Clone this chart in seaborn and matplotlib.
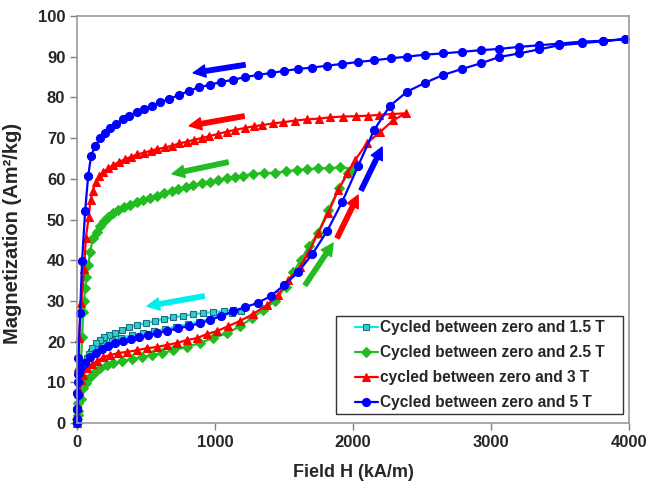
import numpy as np
import pandas as pd
import seaborn as sns
import matplotlib.pyplot as plt
from matplotlib.patches import Rectangle

# ================================
# Datos (H en kA/m, M en Am2/kg)
# ================================
h_15_up = [0, 5, 12, 25, 45, 70, 100, 140, 190, 250, 320, 400, 480, 560, 640, 720,
           800, 880, 960, 1040, 1120, 1190]
m_15_up = [0, 4, 8, 11, 14, 16, 17.5, 18.6, 19.5, 20.3, 21, 21.6, 22.1, 22.6, 23.1, 23.7,
           24.3, 24.9, 25.6, 26.3, 27.0, 27.6]
h_15_down = [1133, 1062, 988, 915, 843, 770, 698, 630, 566, 500, 437, 379, 326, 275,
             233, 196, 167, 138, 110, 85, 60, 40, 22, 10, 0]
m_15_down = [27.8, 27.5, 27.3, 27.0, 26.8, 26.3, 26.0, 25.6, 25.1, 24.6, 24.1, 23.6, 22.9, 22.1,
             21.6, 21.1, 20.4, 19.7, 18.5, 17, 14.5, 11, 7, 3.5, 1]

h_25_up = [0, 10, 25, 40, 65, 94, 130, 167, 217, 261, 326, 398, 471, 543, 616, 696, 797,
           891, 986, 1087, 1181, 1268, 1348, 1435, 1510, 1565, 1620, 1680, 1746, 1819,
           1899, 1964, 1990]
m_25_up = [0, 3, 6, 8.5, 9.8, 11.3, 12.5, 13.5, 14.2, 14.7, 15.2, 15.7, 16.2, 16.7, 17.2, 17.9,
           18.7, 19.7, 20.9, 22.1, 23.8, 25.8, 27.8, 30.0, 33.5, 37.0, 40.0, 43.5, 46.7, 52.3,
           57.7, 61.4, 62.5]
h_25_down = [1906, 1826, 1746, 1664, 1591, 1514, 1433, 1355, 1277, 1205, 1145, 1084, 1022,
             964, 903, 841, 790, 732, 688, 630, 580, 529, 478, 433, 384, 341, 297, 263, 227,
             196, 167, 142, 113, 95, 80, 68, 58, 50, 43, 36, 28, 20, 10, 3, 0]
m_25_down = [62.8, 62.6, 62.6, 62.3, 62.2, 61.8, 61.5, 61.4, 61.2, 60.8, 60.5, 60.1, 59.7,
             59.3, 58.9, 58.4, 57.9, 57.4, 57.1, 56.5, 55.9, 55.3, 54.8, 54.2, 53.6, 53.0, 52.3,
             51.5, 50.7, 49.7, 48.5, 47.0, 45.4, 42.0, 38.8, 36.0, 33.2, 30, 27.3, 21.1, 15, 10,
             5, 2, 1]

h_3_up = [0, 5, 15, 30, 43, 72, 109, 145, 188, 239, 297, 362, 435, 507, 580, 652, 725, 797,
          870, 942, 1014, 1094, 1181, 1275, 1377, 1457, 1529, 1616, 1674, 1746, 1819, 1891,
          1957, 2014, 2101, 2196, 2290, 2384]
m_3_up = [0, 4, 8, 10.5, 11.8, 13.5, 14.5, 15.2, 16.2, 16.7, 17.2, 17.5, 17.9, 18.4, 18.7,
          19.2, 19.7, 20.4, 20.9, 21.9, 22.6, 23.8, 25.1, 26.8, 29.0, 31.5, 35.1, 38.4, 41.7,
          46.7, 51.6, 57.2, 61.4, 64.6, 68.8, 71.5, 74.4, 76.1]
h_3_down = [2283, 2188, 2109, 2022, 1927, 1833, 1756, 1664, 1578, 1495, 1418, 1343, 1280,
            1217, 1145, 1084, 1022, 957, 903, 847, 794, 741, 686, 637, 582, 533, 484, 437,
            389, 348, 307, 263, 227, 191, 162, 135, 113, 97, 84, 63, 51, 29, 14, 5, 2, 0]
m_3_down = [75.9, 75.7, 75.5, 75.4, 75.3, 75.1, 74.8, 74.6, 74.3, 73.9, 73.6, 73.2, 72.9,
            72.5, 72.0, 71.6, 71.0, 70.5, 70.0, 69.6, 69.1, 68.7, 68.1, 67.7, 67.3, 66.9, 66.4,
            66.0, 65.4, 64.8, 64.2, 63.4, 62.6, 61.7, 60.6, 59.1, 57.1, 54.8, 50.7, 45.4, 37.9,
            29.5, 20.9, 13.8, 8, 2]

h_5_up = [0, 2, 4, 8, 15, 30, 58, 94, 137, 178, 226, 275, 331, 391, 450, 514, 577, 650,
          728, 810, 893, 964, 1043, 1133, 1219, 1307, 1403, 1500, 1601, 1704, 1812, 1920,
          2035, 2152, 2266, 2391, 2522, 2652, 2790, 2928, 3058, 3203, 3348, 3493, 3659,
          3812, 3971]
m_5_up = [0, 3.5, 7, 10, 12.5, 13.8, 14.7, 16.2, 17.2, 18.2, 18.9, 19.6, 20.2, 20.6, 21.1,
          21.6, 22.1, 22.6, 23.3, 23.8, 24.6, 25.3, 26.3, 27.5, 28.5, 29.5, 31.2, 33.9, 37.1,
          41.5, 47.2, 54.3, 63.1, 72.0, 77.9, 81.4, 83.6, 85.5, 87.0, 88.4, 89.9, 90.8, 91.8,
          92.8, 93.3, 93.8, 94.3]
h_5_down = [3812, 3659, 3493, 3348, 3203, 3058, 2928, 2790, 2652, 2522, 2391, 2275, 2152,
            2036, 1920, 1812, 1703, 1603, 1500, 1406, 1310, 1217, 1130, 1043, 964, 884, 812,
            739, 667, 601, 543, 486, 433, 377, 333, 283, 239, 203, 167, 130, 101, 80, 58, 36,
            22, 10, 5, 2, 0, 0]
m_5_down = [93.9, 93.7, 93.2, 92.8, 92.4, 91.9, 91.6, 91.2, 90.8, 90.5, 90.0, 89.6, 89.1,
            88.7, 88.2, 87.8, 87.3, 87.0, 86.5, 86.0, 85.5, 85.0, 84.3, 83.8, 83.1, 82.5, 81.6,
            80.6, 79.6, 78.8, 77.9, 77.2, 76.4, 75.5, 74.6, 73.5, 72.5, 71.3, 70.0, 68.0, 65.6,
            60.7, 52.0, 39.8, 27.0, 16.0, 12.0, 7.5, 3.5, 1]

etiquetas = ["Cycled between zero and 1.5 T", "Cycled between zero and 2.5 T",
             "cycled between zero and 3 T", "Cycled between zero and 5 T"]

# flechas: (cola H, cola M, punta H, punta M)
flechas_azul = [(1217, 88.0, 841, 86.0), (2058, 57.2, 2210, 67.8)]
flechas_rojo = [(1210, 75.4, 812, 73.0), (1884, 45.5, 2036, 56.0)]
flechas_verde = [(1094, 64.1, 688, 61.2), (1652, 33.9, 1855, 44.2)]
flechas_cian = [(920, 31.2, 507, 28.7)]

# Estilo visual
sns.set_style("white")
plt.rcParams["font.family"] = ["Liberation Sans", "DejaVu Sans"]
plt.rcParams["font.weight"] = "bold"

fig = plt.figure(figsize=(6.48, 4.83), dpi=100)
ax = fig.add_axes([0.119, 0.124, 0.852, 0.843])

series = [
    (h_15_up + h_15_down, m_15_up + m_15_down, "#00eeee", "s", "#33cccc", "#1a6f80", 5),
    (h_25_up + h_25_down, m_25_up + m_25_down, "#22bb22", "D", "#22bb22", "#22bb22", 5),
    (h_3_up + h_3_down, m_3_up + m_3_down, "#ff0000", "^", "#ff0000", "#ff0000", 6),
    (h_5_up + h_5_down, m_5_up + m_5_down, "#0000ff", "o", "#0000ff", "#0000ff", 5.8),
]

for (h, m, col, mk, fc, ec, ms), lab in zip(series, etiquetas):
    df = pd.DataFrame({"H": h, "M": m})
    sns.lineplot(data=df, x="H", y="M", sort=False, estimator=None, ax=ax,
                 color=col, lw=1.6, marker=mk, markersize=ms,
                 markerfacecolor=fc, markeredgecolor=ec, markeredgewidth=0.8,
                 label=lab, clip_on=False)

for lista, col in [(flechas_azul, "#0000ff"), (flechas_rojo, "#ff0000"),
                   (flechas_verde, "#22bb22"), (flechas_cian, "#00eeee")]:
    for x0, y0, x1, y1 in lista:
        ax.annotate("", xy=(x1, y1), xytext=(x0, y0),
                    arrowprops=dict(arrowstyle="simple,head_width=1.1,head_length=1.1,tail_width=0.4",
                                    color=col, mutation_scale=8, shrinkA=0, shrinkB=0))

ax.set_xlim(0, 4000)
ax.set_ylim(0, 100)
ax.set_xticks(np.arange(0, 4001, 1000))
ax.set_yticks(np.arange(0, 101, 10))
ax.tick_params(axis="both", labelsize=12, direction="out", length=5, width=1,
               color="#808080", bottom=True, left=True)
for s in ax.spines.values():
    s.set_color("#9a9a9a")
    s.set_linewidth(1.2)

ax.set_xlabel("Field H (kA/m)", fontsize=13, fontweight="bold")
ax.set_ylabel("Magnetization (Am²/kg)", fontsize=14.5, fontweight="bold")
ax.xaxis.set_label_coords(0.5, -0.1)
ax.yaxis.set_label_coords(-0.1, 0.465)

# Recuadro de la leyenda
caja = Rectangle((0.469, 0.022), 0.520, 0.241, transform=ax.transAxes,
                 facecolor="white", edgecolor="#333333", lw=1.0, zorder=5)
ax.add_patch(caja)

leg = ax.legend(loc="center", bbox_to_anchor=(0.729, 0.1425), borderaxespad=0,
                fontsize=11.2, frameon=False, handlelength=1.5,
                handletextpad=0.1, labelspacing=0.64, borderpad=0.2)
leg.set_zorder(6)
for t in leg.get_texts():
    t.set_fontweight("bold")

plt.savefig("out.png", dpi=100)
